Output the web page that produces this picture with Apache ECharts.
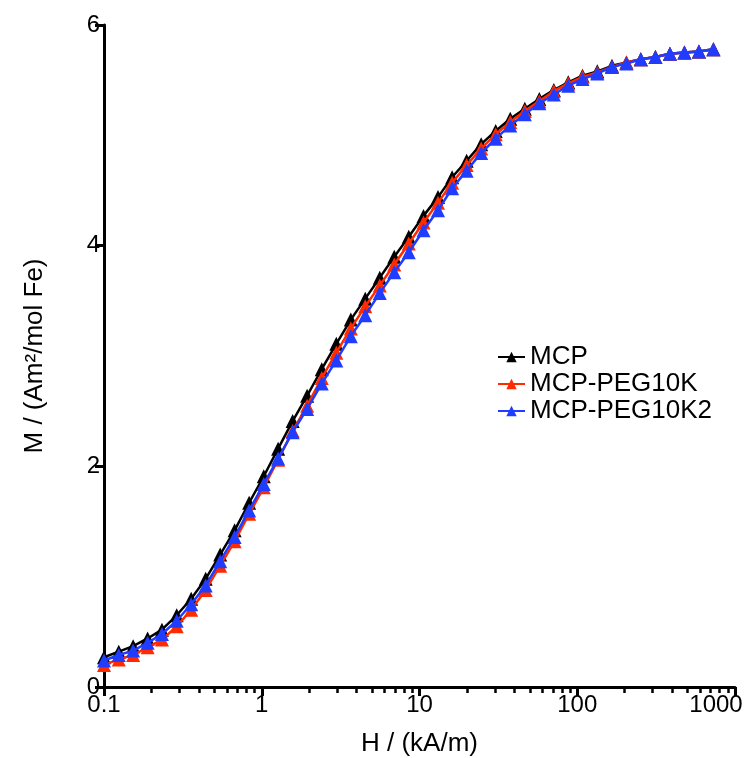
<!DOCTYPE html>
<html><head><meta charset="utf-8">
<script src="https://cdn.jsdelivr.net/npm/echarts@6/dist/echarts.min.js"></script>
<style>html,body{margin:0;padding:0;background:#fff}#c{width:748px;height:758px}</style>
</head><body><div id="c"></div>
<script>
// Field H (kA/m)
const H = [0.1, 0.124, 0.153, 0.189, 0.233, 0.289, 0.357, 0.441, 0.545, 0.673, 0.832,
  1.03, 1.27, 1.57, 1.94, 2.40, 2.97, 3.67, 4.53, 5.60, 6.92, 8.55,
  10.6, 13.1, 16.1, 19.9, 24.6, 30.4, 37.6, 46.5, 57.5, 71.0, 87.7,
  108, 134, 166, 205, 253, 313, 387, 478, 591, 730];
// Magnetization M (Am2/mol Fe)
const MCP = [0.27, 0.32, 0.37, 0.44, 0.52, 0.65, 0.80, 0.98, 1.20, 1.42, 1.67,
  1.91, 2.16, 2.41, 2.64, 2.88, 3.11, 3.33, 3.52, 3.71, 3.90, 4.08,
  4.27, 4.44, 4.62, 4.77, 4.92, 5.04, 5.15, 5.24, 5.33, 5.41, 5.48,
  5.54, 5.58, 5.63, 5.66, 5.69, 5.71, 5.74, 5.75, 5.76, 5.78];
const MCP_PEG10K = [0.20, 0.25, 0.29, 0.36, 0.43, 0.55, 0.70, 0.88, 1.10, 1.32, 1.57,
  1.81, 2.06, 2.32, 2.55, 2.80, 3.03, 3.25, 3.45, 3.64, 3.83, 4.02,
  4.21, 4.39, 4.57, 4.73, 4.88, 5.01, 5.12, 5.22, 5.31, 5.40, 5.47,
  5.53, 5.57, 5.62, 5.66, 5.69, 5.71, 5.74, 5.75, 5.76, 5.78];
const MCP_PEG10K2 = [0.24, 0.29, 0.33, 0.40, 0.48, 0.60, 0.75, 0.92, 1.14, 1.36, 1.60,
  1.84, 2.07, 2.31, 2.52, 2.75, 2.96, 3.18, 3.37, 3.57, 3.76, 3.94,
  4.14, 4.32, 4.52, 4.68, 4.84, 4.97, 5.09, 5.19, 5.29, 5.37, 5.45,
  5.51, 5.56, 5.62, 5.65, 5.69, 5.71, 5.74, 5.75, 5.76, 5.78];
const seriesNames = ['MCP', 'MCP-PEG10K', 'MCP-PEG10K2'];
const seriesColors = ['#000000', '#ff2a00', '#1f3cff'];
const decades = [0.1, 1, 10, 100];
const minorMultipliers = [2, 3, 4, 5, 6, 7, 8, 9];

const FONT = "'Liberation Sans', Arial, Helvetica, sans-serif";
const minorTickLog = [];
decades.forEach(d => minorMultipliers.forEach(m => minorTickLog.push(Math.log10(d * m))));

function pairs(ys) { return H.map((h, i) => [h, ys[i]]); }
const allData = [MCP, MCP_PEG10K, MCP_PEG10K2];

const chart = echarts.init(document.getElementById('c'), null, {renderer: 'canvas'});
chart.setOption({
  animation: false,
  backgroundColor: '#fff',
  grid: {left: 104, right: 13, top: 25, bottom: 71, containLabel: false, outerBoundsMode: 'none'},
  legend: {
    orient: 'vertical', left: 492, top: 339, itemGap: 1,
    itemWidth: 27, itemHeight: 13,
    textStyle: {fontFamily: FONT, fontSize: 26, color: '#000'},
    data: seriesNames
  },
  xAxis: [{
    type: 'log', logBase: 10, min: 0.1, max: 1000,
    name: 'H / (kA/m)', nameLocation: 'middle', nameGap: 44,
    nameTextStyle: {fontFamily: FONT, fontSize: 26, color: '#000'},
    axisLine: {onZero: false, lineStyle: {color: '#000', width: 3}},
    axisTick: {length: 9, lineStyle: {color: '#000', width: 3}},
    axisLabel: {fontFamily: FONT, fontSize: 24, color: '#000', margin: 6,
      formatter: v => (v >= 1000 ? '{last|' + v + '}' : String(v)),
      rich: {last: {fontFamily: FONT, fontSize: 24, color: '#000', padding: [0, 38, 0, 0]}}},
    splitLine: {show: false}
  }, {
    type: 'value', min: -1, max: 3, position: 'bottom',
    axisLine: {show: false, onZero: false},
    axisTick: {show: true, length: 6, customValues: minorTickLog, lineStyle: {color: '#000', width: 2.5}},
    axisLabel: {show: false},
    splitLine: {show: false}
  }],
  yAxis: {
    type: 'value', min: 0, max: 6, interval: 2,
    name: 'M / (Am\u00B2/mol Fe)', nameLocation: 'middle', nameGap: 56,
    nameTextStyle: {fontFamily: FONT, fontSize: 26, color: '#000'},
    axisLine: {show: true, onZero: false, lineStyle: {color: '#000', width: 3}},
    axisTick: {show: true, length: 9, lineStyle: {color: '#000', width: 3}},
    axisLabel: {fontFamily: FONT, fontSize: 24, color: '#000', margin: 4},
    splitLine: {show: false}
  },
  series: allData.map((ys, i) => ({
    name: seriesNames[i], type: 'line', xAxisIndex: 0,
    data: pairs(ys),
    symbol: 'triangle', symbolSize: 14, showSymbol: true,
    itemStyle: {color: seriesColors[i]},
    lineStyle: {color: seriesColors[i], width: 2.5},
    z: 2 + i
  }))
});
</script>
</body></html>
